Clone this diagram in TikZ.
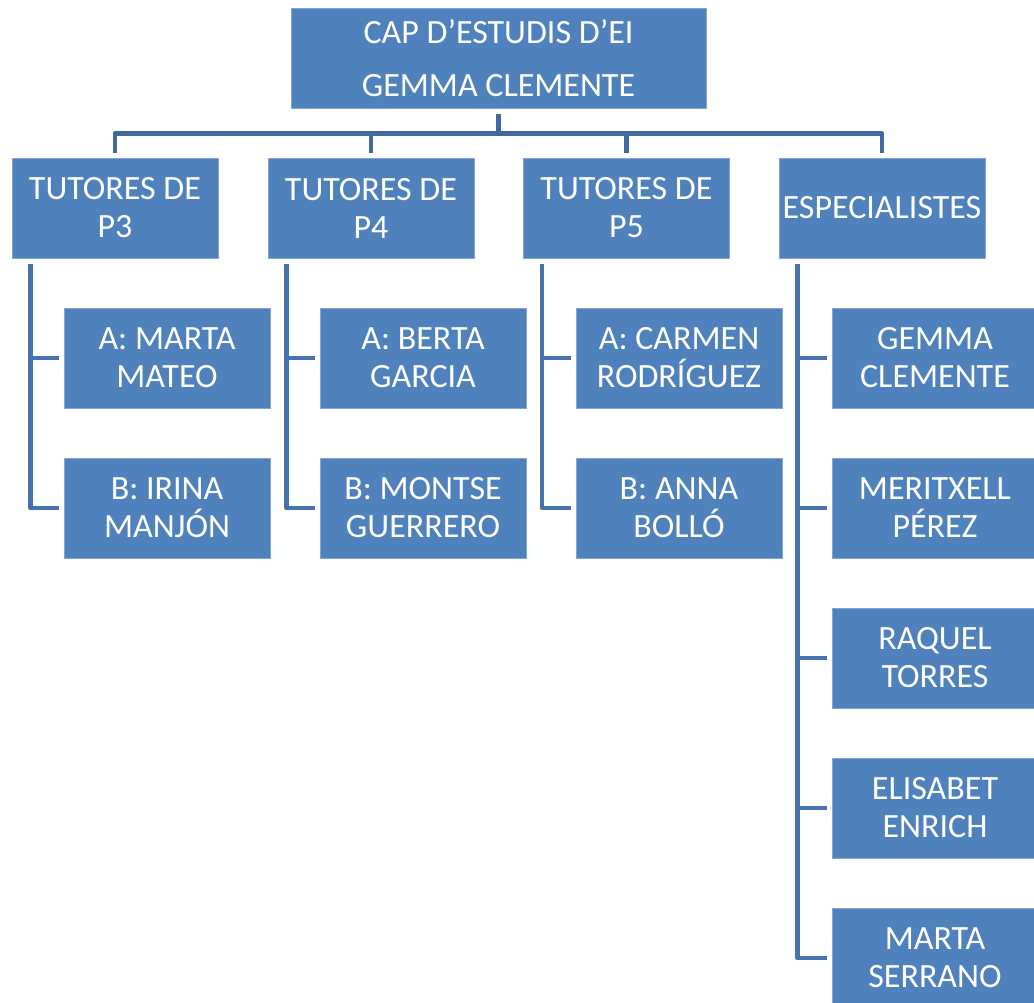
\documentclass[tikz,border=0pt]{standalone}
\usepackage{fontspec}
\setmainfont{Carlito}
\usetikzlibrary{calc}
\definecolor{boxblue}{HTML}{4F81BD}
\definecolor{boxedge}{HTML}{86A5D3}
\definecolor{linetop}{HTML}{41699B}
\definecolor{linesub}{HTML}{4673AB}
\begin{document}
\begin{tikzpicture}[x=1pt,y=-1pt,
  box/.style={rectangle, fill=boxblue, draw=boxedge, line width=0.8pt,
    minimum width=206pt, minimum height=100pt, inner sep=0pt,
    text=white, align=center, font=\fontsize{34}{38}\selectfont},
  conn/.style={line width=4.6pt, line join=round},
]
\useasboundingbox (0,0) rectangle (1034,1003);
\clip (0,0) rectangle (1034,1003);
% boxes
\node[box, minimum width=415pt] (top) at (498.5,58) {CAP D’ESTUDIS D’EI\\[15pt]GEMMA CLEMENTE};
\node[box] (p3) at (115,208) {TUTORES DE\\P3};
\node[box] (p4) at (371,208) {TUTORES DE\\P4};
\node[box] (p5) at (626.5,208) {TUTORES DE\\P5};
\node[box] (sp) at (882,208) {ESPECIALISTES};
\node[box] (p3a) at (167,358) {A: MARTA\\MATEO};
\node[box] (p3b) at (167,508) {B: IRINA\\MANJÓN};
\node[box] (p4a) at (423,358) {A: BERTA\\GARCIA};
\node[box] (p4b) at (423,508) {B: MONTSE\\GUERRERO};
\node[box] (p5a) at (679,358) {A: CARMEN\\RODRÍGUEZ};
\node[box] (p5b) at (679,508) {B: ANNA\\BOLLÓ};
\node[box] (s1) at (935,358) {GEMMA\\CLEMENTE};
\node[box] (s2) at (935,508) {MERITXELL\\PÉREZ};
\node[box] (s3) at (935,658) {RAQUEL\\TORRES};
\node[box] (s4) at (935,808) {ELISABET\\ENRICH};
\node[box] (s5) at (935,958) {MARTA\\SERRANO};
% top connectors
\coordinate (bar) at (498.5,133.5);
\draw[conn,linetop] ($(top.south)+(0,6)$) -- (top.south |- bar);
\draw[conn,linetop] ($(p3.north)+(0,-5)$) |- (bar) -| ($(sp.north)+(0,-5)$);
\draw[conn,linetop] ($(p4.north)+(0,-5)$) -- (p4.north |- bar);
\draw[conn,linetop] ($(p5.north)+(0,-5)$) -- (p5.north |- bar);
% P3
\coordinate (p3v) at ($(p3.south west)+(19,6)$);
\draw[conn,linesub] (p3v) |- ($(p3b.west)+(-5,0)$);
\draw[conn,linesub] (p3v |- p3a.west) -- ($(p3a.west)+(-5,0)$);
% P4
\coordinate (p4v) at ($(p4.south west)+(19,6)$);
\draw[conn,linesub] (p4v) |- ($(p4b.west)+(-5,0)$);
\draw[conn,linesub] (p4v |- p4a.west) -- ($(p4a.west)+(-5,0)$);
% P5
\coordinate (p5v) at ($(p5.south west)+(19,6)$);
\draw[conn,linesub] (p5v) |- ($(p5b.west)+(-5,0)$);
\draw[conn,linesub] (p5v |- p5a.west) -- ($(p5a.west)+(-5,0)$);
% Especialistes
\coordinate (spv) at ($(sp.south west)+(19,6)$);
\draw[conn,linesub] (spv) |- ($(s5.west)+(-5,0)$);
\draw[conn,linesub] (spv |- s1.west) -- ($(s1.west)+(-5,0)$);
\draw[conn,linesub] (spv |- s2.west) -- ($(s2.west)+(-5,0)$);
\draw[conn,linesub] (spv |- s3.west) -- ($(s3.west)+(-5,0)$);
\draw[conn,linesub] (spv |- s4.west) -- ($(s4.west)+(-5,0)$);
\end{tikzpicture}
\end{document}
